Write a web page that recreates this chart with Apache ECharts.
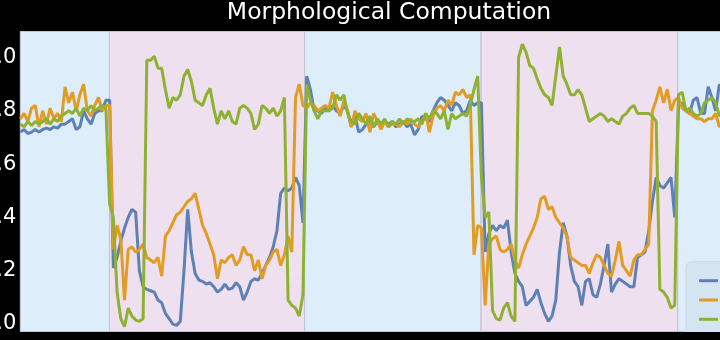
<!DOCTYPE html>
<html><head><meta charset="utf-8">
<script src="https://cdn.jsdelivr.net/npm/echarts@6/dist/echarts.min.js"></script>
<style>
html,body{margin:0;padding:0;background:#000;overflow:hidden;width:720px;height:340px}
#c{position:absolute;left:-20px;top:0;width:818px;height:340px}
#cover{position:absolute;left:0;top:332px;width:720px;height:8px;background:#000;z-index:5}
</style></head>
<body><div id="c"></div><div id="cover"></div>
<script>
// time steps (one sample per unit)
const tStart = 0, tStep = 1;
const seriesNames = ["MC_W", "MC_A", "MC_MI"];
const blueVals = [
0.72,0.73,0.715,0.72,0.73,0.72,0.73,0.735,0.73,0.74,0.735,0.75,0.75,0.76,0.77,0.73,0.74,0.80,0.77,0.75,0.79,0.80,0.80,0.84,
0.84,0.21,0.25,0.31,0.36,0.40,0.43,0.42,0.20,0.14,0.13,0.125,0.12,0.09,0.08,0.04,0.02,0.0,-0.005,0.01,0.2,0.43,0.27,0.19,0.165,0.16,0.15,0.155,0.14,0.12,0.13,0.15,0.13,0.135,0.155,0.14,0.09,0.12,0.16,0.17,0.165,0.19,0.22,0.25,0.29,0.35,0.49,0.51,0.50,0.51,0.55,0.52,0.38,0.93,
0.88,0.80,0.80,0.79,0.81,0.80,0.82,0.80,0.79,0.82,0.80,0.74,0.78,0.72,
0.73,0.75,0.76,0.74,0.76,0.75,0.76,0.75,0.76,0.74,0.75,0.76,0.74,0.75,0.71,0.73,0.78,0.77,0.76,0.80,0.83,0.85,0.84,0.82,0.80,0.83,0.82,0.79,0.80,0.84,0.82,0.83,
0.83,0.27,0.34,0.37,0.35,0.37,0.36,0.39,0.27,0.19,0.16,0.14,0.07,0.085,0.10,0.13,0.08,0.04,0.01,0.03,0.09,0.27,0.38,0.33,0.22,0.16,0.14,0.07,0.16,0.17,0.11,0.10,0.15,0.22,0.30,0.12,
0.15,0.17,0.16,0.15,0.14,0.14,0.25,0.26,0.27,0.35,0.46,0.55,0.52,0.51,0.53,0.55,0.40,0.82,0.83,0.80,0.79,0.84,0.85,0.79,0.79,0.89,0.85,0.80,0.90,0.86
];
const orangeVals = [
0.77,0.79,0.76,0.81,0.82,0.74,0.80,0.75,0.81,0.77,0.79,0.76,0.89,0.83,0.87,0.80,0.86,0.90,0.80,0.78,0.82,0.85,0.80,0.82,
0.82,0.28,0.37,0.32,0.09,0.28,0.29,0.27,0.28,0.30,0.25,0.24,0.23,0.25,0.18,0.33,0.35,0.38,0.41,0.42,0.44,0.46,0.47,0.49,0.43,0.37,0.34,0.30,0.26,0.17,0.24,0.23,0.25,0.26,0.22,0.24,0.29,0.26,0.26,0.20,0.24,0.17,0.22,0.24,0.27,0.28,0.22,0.26,0.33,0.27,0.85,0.90,0.82,0.81,
0.83,0.82,0.80,0.81,0.82,0.81,0.87,0.82,0.78,0.84,0.80,0.74,0.80,0.77,
0.76,0.79,0.72,0.79,0.76,0.73,0.76,0.74,0.75,0.75,0.74,0.76,0.75,0.77,0.75,0.74,0.76,0.79,0.72,0.78,0.81,0.82,0.80,0.84,0.82,0.87,0.86,0.88,0.85,0.86,0.26,0.37,
0.36,0.07,0.30,0.32,0.33,0.28,0.27,0.28,0.30,0.24,0.21,0.26,0.30,0.33,0.36,0.40,0.47,0.48,0.43,0.44,0.40,0.38,0.36,0.33,0.25,0.24,0.23,0.22,0.22,0.19,0.23,0.26,0.25,0.22,0.19,0.18,
0.24,0.31,0.22,0.20,0.18,0.24,0.26,0.26,0.28,0.30,0.80,0.84,0.89,0.83,0.88,0.80,0.84,0.85,0.81,0.80,0.79,0.78,0.77,0.77,0.76,0.77,0.77,0.79,0.74,0.75
];
const greenVals = [
0.75,0.74,0.76,0.745,0.76,0.75,0.76,0.77,0.75,0.77,0.76,0.78,0.79,0.80,0.79,0.81,0.78,0.81,0.80,0.82,0.80,0.81,0.82,0.81,
0.45,0.40,0.12,0.02,-0.01,0.06,0.03,0.015,0.01,0.02,0.99,0.99,1.005,0.96,0.96,0.88,0.81,0.85,0.84,0.86,0.93,0.955,0.91,0.84,0.83,0.82,0.86,0.885,0.81,0.75,0.80,0.77,0.80,0.76,0.75,0.81,0.82,0.81,0.79,0.73,0.75,0.82,0.81,0.79,0.81,0.78,0.80,0.85,0.09,0.07,0.06,0.03,0.11,0.90,
0.84,0.80,0.77,0.80,0.80,0.80,0.81,0.86,0.84,0.86,0.79,0.76,0.75,0.79,
0.77,0.75,0.78,0.74,0.77,0.75,0.77,0.74,0.76,0.75,0.77,0.75,0.77,0.76,0.76,0.77,0.75,0.79,0.77,0.80,0.79,0.77,0.80,0.73,0.79,0.77,0.78,0.79,0.78,0.82,0.88,0.93,
0.55,0.40,0.42,0.05,0.02,0.015,0.06,0.08,0.03,0.01,1.0,1.05,1.02,0.97,0.96,0.92,0.885,0.86,0.85,0.82,0.93,1.04,0.93,0.90,0.86,0.86,0.88,0.86,0.81,0.76,0.77,0.78,0.79,0.78,0.76,0.77,
0.76,0.75,0.78,0.79,0.81,0.82,0.79,0.79,0.79,0.79,0.78,0.76,0.13,0.12,0.10,0.06,0.07,0.86,0.87,0.80,0.81,0.79,0.78,0.79,0.83,0.84,0.85,0.83,0.78,0.79
];
// background phases: [start, end, kind]
const phaseStarts = [0, 23.95, 76.45, 123.9, 176.8];
const phaseEnds   = [23.95, 76.45, 123.9, 176.8, 207];
const phaseKinds  = ["a", "b", "a", "b", "a"];
const yTicks = [0, 0.2, 0.4, 0.6, 0.8, 1.0];
const yMinorTicks = [0.05,0.1,0.15,0.25,0.3,0.35,0.45,0.5,0.55,0.65,0.7,0.75,0.85,0.9,0.95,1.05];

const colors = ["#5e81b5", "#e19c24", "#8fb131"];
const bandColor = {a: "#ddedfa", b: "#efe0ef"};
const toPairs = vals => vals.map((v, i) => [tStart + i * tStep, v]);

const chart = echarts.init(document.getElementById('c'), null, {renderer: 'canvas'});
const yMin = -0.028, yMax = 1.0976;
const areas = phaseStarts.map((s, i) => [
  {xAxis: s, itemStyle: {color: bandColor[phaseKinds[i]], borderColor: '#c2c2d2', borderWidth: 1}},
  {xAxis: phaseEnds[i]}
]);
const allVals = [blueVals, orangeVals, greenVals];
chart.setOption({
  animation: false,
  backgroundColor: '#000',
  title: {
    text: 'Morphological Computation', left: 'center', top: -4,
    textStyle: {color: '#fff', fontSize: 23.5, fontWeight: 'normal', fontFamily: 'DejaVu Sans'}
  },
  grid: {left: 37.3, top: 31.5, right: 8, bottom: 8.5, show: true, borderColor: '#9a9a9a', borderWidth: 1},
  legend: {
    data: seriesNames, orient: 'vertical', left: 706, top: 261.7,
    padding: [11, 30, 11, 13], backgroundColor: '#d5e4f1', borderColor: '#c8d8e8', borderWidth: 1, borderRadius: 6,
    icon: 'rect', itemWidth: 19, itemHeight: 3, itemGap: 3.3,
    textStyle: {fontSize: 13, lineHeight: 16, color: '#222', fontFamily: 'DejaVu Sans'}
  },
  xAxis: {type: 'value', min: 0, max: 207, axisLine: {show: true, lineStyle: {color: '#9a9a9a'}},
    axisTick: {show: false}, axisLabel: {show: false}, splitLine: {show: false}},
  yAxis: [
    {type: 'value', min: yMin, max: yMax, position: 'left',
     axisLine: {show: true, lineStyle: {color: '#9a9a9a'}},
     axisTick: {show: true, inside: true, length: 5, customValues: yTicks, lineStyle: {color: '#8a8a8a'}},
     axisLabel: {show: true, customValues: yTicks, formatter: v => v.toFixed(1), color: '#fff', fontSize: 21, fontFamily: 'DejaVu Sans', margin: 4},
     splitLine: {show: false}},
    {type: 'value', min: yMin, max: yMax, position: 'left',
     axisLine: {show: false},
     axisTick: {show: true, inside: true, length: 2.5, customValues: yMinorTicks, lineStyle: {color: '#8a8a8a'}},
     axisLabel: {show: false, customValues: yMinorTicks},
     splitLine: {show: false}}
  ],
  series: allVals.map((vals, i) => ({
    name: seriesNames[i], type: 'line', showSymbol: false, symbol: 'none',
    data: toPairs(vals), yAxisIndex: 0,
    lineStyle: {width: 3, color: colors[i]}, itemStyle: {color: colors[i]},
    markArea: i === 0 ? {silent: true, data: areas} : undefined,
    z: 2 + i
  }))
});
</script></body></html>
